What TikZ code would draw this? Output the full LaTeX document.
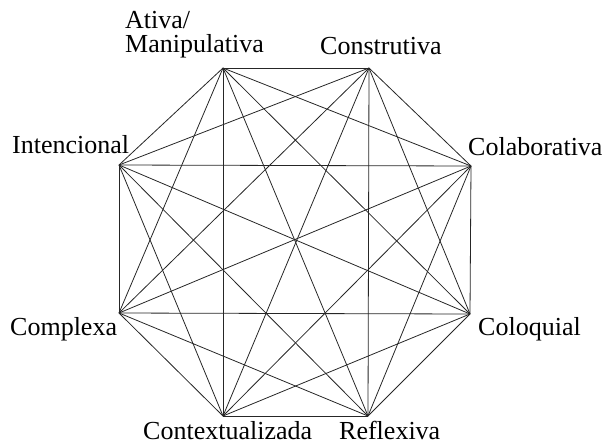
\documentclass[tikz,border=0pt]{standalone}
\usepackage{fontspec}
\setmainfont{Liberation Serif}
\begin{document}
\begin{tikzpicture}[x=1pt,y=-1pt,
  lbl/.style={anchor=base west, inner sep=0pt, font=\fontsize{26}{23}\selectfont},
  edge/.style={line width=0.8pt, draw=black!85}]
\useasboundingbox (0,0) rectangle (607,445);
\coordinate (v1) at (223,68);
\coordinate (v2) at (369,68);
\coordinate (v3) at (471,166);
\coordinate (v4) at (470,314);
\coordinate (v5) at (368,416);
\coordinate (v6) at (223,416);
\coordinate (v7) at (119,313);
\coordinate (v8) at (119,165);
\foreach \i in {1,...,7} {
  \pgfmathtruncatemacro\s{\i+1}
  \foreach \j in {\s,...,8} {\draw[edge] (v\i) -- (v\j);}
}
\node[lbl] (l1a) at (125,28) {Ativa/};
\node[lbl] (l1b) at (125,52) {Manipulativa};
\node[lbl] (l2) at (320,54) {Construtiva};
\node[lbl] (l3) at (468,155) {Colaborativa};
\node[lbl] (l4) at (478,335) {Coloquial};
\node[lbl] (l5) at (339,439) {Reflexiva};
\node[lbl] (l6) at (143,439) {Contextualizada};
\node[lbl] (l7) at (10,335) {Complexa};
\node[lbl] (l8) at (12,153) {Intencional};
\end{tikzpicture}
\end{document}
